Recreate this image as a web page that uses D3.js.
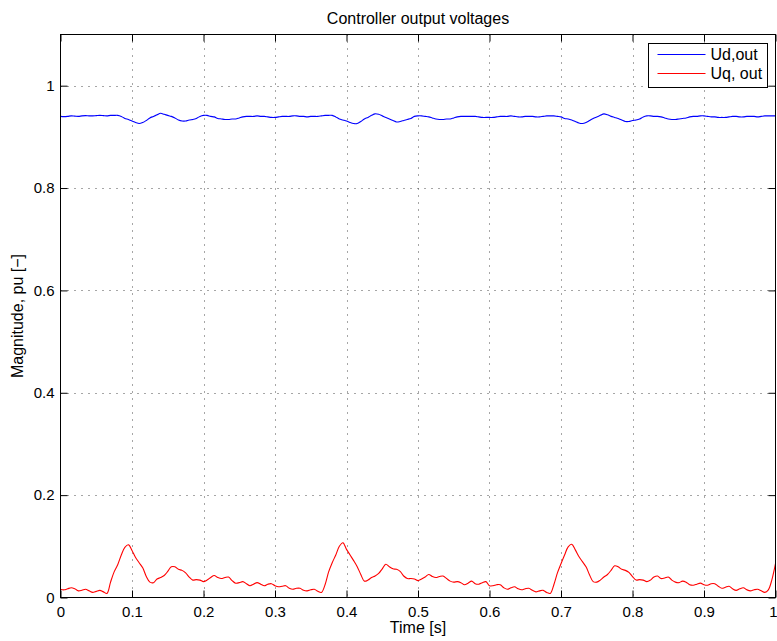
<!DOCTYPE html>
<html>
<head>
<meta charset="utf-8">
<script src="https://cdn.jsdelivr.net/npm/d3@7"></script>
<style>
  html, body { margin: 0; padding: 0; background: #ffffff; }
  svg { display: block; font-family: "Liberation Sans", Arial, Helvetica, sans-serif; }
</style>
</head>
<body>
<svg id="chart" width="777" height="641"></svg>
<script>
// Sample period of the logged controller outputs (s)
const sampleStep = 0.005;

// d-axis controller output voltage, pu
const udOut = [
  0.940, 0.9395, 0.940, 0.941, 0.9405, 0.940, 0.941, 0.9415, 0.941, 0.941,
  0.9415, 0.942, 0.9415, 0.941, 0.942, 0.942, 0.942, 0.940, 0.936, 0.934,
  0.931, 0.928, 0.926, 0.928, 0.932, 0.937, 0.940, 0.943, 0.946, 0.944,
  0.942, 0.940, 0.937, 0.933, 0.931, 0.931, 0.933, 0.934, 0.936, 0.940,
  0.942, 0.942, 0.940, 0.939, 0.936, 0.935, 0.934, 0.934, 0.935, 0.935,
  0.937, 0.939, 0.940, 0.940, 0.940, 0.941, 0.940, 0.940, 0.939, 0.938,
  0.938, 0.939, 0.940, 0.940, 0.940, 0.941, 0.941, 0.940, 0.940, 0.939,
  0.940, 0.940, 0.940, 0.941, 0.942, 0.942, 0.942, 0.939, 0.935, 0.933,
  0.931, 0.928, 0.926, 0.926, 0.930, 0.935, 0.938, 0.942, 0.945, 0.944,
  0.941, 0.938, 0.935, 0.932, 0.929, 0.930, 0.932, 0.934, 0.936, 0.940,
  0.941, 0.941, 0.940, 0.939, 0.937, 0.935, 0.934, 0.934, 0.935, 0.935,
  0.937, 0.939, 0.940, 0.940, 0.940, 0.940, 0.940, 0.939, 0.938, 0.938,
  0.938, 0.938, 0.939, 0.940, 0.940, 0.940, 0.941, 0.940, 0.939, 0.939,
  0.940, 0.940, 0.940, 0.939, 0.939, 0.940, 0.941, 0.941, 0.941, 0.940,
  0.939, 0.936, 0.935, 0.933, 0.930, 0.927, 0.926, 0.928, 0.932, 0.936,
  0.939, 0.942, 0.945, 0.943, 0.940, 0.938, 0.936, 0.933, 0.930, 0.930,
  0.932, 0.933, 0.935, 0.939, 0.941, 0.941, 0.940, 0.940, 0.939, 0.937,
  0.935, 0.934, 0.934, 0.935, 0.936, 0.937, 0.939, 0.940, 0.940, 0.941,
  0.941, 0.940, 0.939, 0.939, 0.938, 0.938, 0.938, 0.939, 0.940, 0.940,
  0.939, 0.939, 0.940, 0.940, 0.940, 0.939, 0.940, 0.941, 0.941, 0.941,
  0.941
];

// q-axis controller output voltage, pu
const uqOut = [
  0.016, 0.015, 0.017, 0.019, 0.017, 0.013, 0.014, 0.016, 0.013, 0.010,
  0.012, 0.014, 0.011, 0.008, 0.030, 0.050, 0.064, 0.083, 0.098, 0.103,
  0.092, 0.078, 0.068, 0.058, 0.041, 0.030, 0.029, 0.036, 0.039, 0.043,
  0.051, 0.060, 0.060, 0.055, 0.053, 0.048, 0.040, 0.034, 0.035, 0.034,
  0.031, 0.034, 0.039, 0.043, 0.039, 0.037, 0.039, 0.040, 0.033, 0.028,
  0.029, 0.031, 0.027, 0.023, 0.026, 0.029, 0.026, 0.023, 0.026, 0.027,
  0.023, 0.021, 0.022, 0.023, 0.018, 0.016, 0.018, 0.018, 0.014, 0.013,
  0.015, 0.016, 0.012, 0.010, 0.025, 0.050, 0.068, 0.083, 0.100, 0.107,
  0.094, 0.083, 0.072, 0.060, 0.045, 0.032, 0.034, 0.039, 0.042, 0.047,
  0.056, 0.065, 0.060, 0.056, 0.055, 0.051, 0.042, 0.037, 0.037, 0.036,
  0.033, 0.036, 0.040, 0.045, 0.041, 0.039, 0.041, 0.042, 0.037, 0.032,
  0.030, 0.031, 0.029, 0.025, 0.028, 0.032, 0.027, 0.026, 0.029, 0.031,
  0.023, 0.023, 0.025, 0.025, 0.019, 0.016, 0.019, 0.021, 0.017, 0.015,
  0.017, 0.018, 0.014, 0.011, 0.013, 0.014, 0.010, 0.008, 0.025, 0.048,
  0.066, 0.083, 0.099, 0.104, 0.093, 0.080, 0.070, 0.060, 0.044, 0.031,
  0.030, 0.034, 0.040, 0.045, 0.053, 0.062, 0.060, 0.055, 0.053, 0.049,
  0.041, 0.034, 0.035, 0.034, 0.031, 0.034, 0.040, 0.042, 0.037, 0.038,
  0.040, 0.034, 0.030, 0.029, 0.032, 0.030, 0.025, 0.024, 0.026, 0.028,
  0.025, 0.024, 0.027, 0.027, 0.022, 0.018, 0.020, 0.022, 0.017, 0.014,
  0.017, 0.019, 0.015, 0.013, 0.015, 0.016, 0.013, 0.010, 0.015, 0.035,
  0.066
];

const xTicks = [0, 0.1, 0.2, 0.3, 0.4, 0.5, 0.6, 0.7, 0.8, 0.9, 1];
const yTicks = [0, 0.2, 0.4, 0.6, 0.8, 1];
const seriesNames = ["Ud,out", "Uq, out"];
const seriesColors = ["#0000ff", "#ff0000"];

const svg = d3.select("#chart");
const margin = { left: 60.5, right: 1.5, top: 34.5, bottom: 43.5 };
const W = 777, H = 641;
const x0 = margin.left, x1 = W - margin.right;
const y0 = H - margin.bottom, y1 = margin.top;

const x = d3.scaleLinear().domain([0, 1]).range([x0, x1]);
const y = d3.scaleLinear().domain([0, 1.1]).range([y0, y1]);

const fmt = d => d3.format("")(+d.toFixed(1));

// dotted grid
const grid = svg.append("g").attr("stroke", "#222").attr("stroke-width", 1)
  .attr("stroke-dasharray", "1,6").attr("opacity", 0.8);
grid.selectAll(".gx").data(xTicks.slice(1, -1)).join("line")
  .attr("x1", d => Math.round(x(d)) + 0.5).attr("x2", d => Math.round(x(d)) + 0.5)
  .attr("y1", y1).attr("y2", y0);
grid.selectAll(".gy").data(yTicks.slice(1)).join("line")
  .attr("y1", d => Math.round(y(d)) + 0.5).attr("y2", d => Math.round(y(d)) + 0.5)
  .attr("x1", x0).attr("x2", x1);

// data lines
const line = d3.line()
  .x((d, i) => x(i * sampleStep))
  .y(d => y(d))
  .curve(d3.curveCatmullRom);

const plot = svg.append("g");
[udOut, uqOut].forEach((vals, k) => {
  plot.append("path").datum(vals)
    .attr("fill", "none")
    .attr("stroke", seriesColors[k])
    .attr("stroke-width", 1.1)
    .attr("d", line);
});

// axes (ticks pointing inward, mirrored on top and right)
const tickLen = 7;
const axisBottom = d3.axisBottom(x).tickValues(xTicks).tickSize(-tickLen).tickPadding(9).tickFormat(fmt);
const axisTop = d3.axisTop(x).tickValues(xTicks).tickSize(-tickLen).tickFormat("");
const axisLeft = d3.axisLeft(y).tickValues(yTicks).tickSize(-tickLen).tickPadding(6).tickFormat(fmt);
const axisRight = d3.axisRight(y).tickValues(yTicks).tickSize(-tickLen).tickFormat("");

function styleAxis(g) {
  g.select(".domain").remove();
  g.selectAll("line").attr("stroke", "#000");
  g.selectAll("text").attr("fill", "#000").style("font-size", "15px")
    .style("font-family", "'Liberation Sans', Arial, sans-serif");
}

const gBottom = svg.append("g").attr("transform", `translate(0,${y0})`).call(axisBottom).call(styleAxis);
// keep the last time label inside the figure
gBottom.selectAll(".tick text").filter(d => d === 1)
  .attr("text-anchor", "end").attr("x", 1.5);
svg.append("g").attr("transform", `translate(0,${y1})`).call(axisTop).call(styleAxis);
svg.append("g").attr("transform", `translate(${x0},0)`).call(axisLeft).call(styleAxis);
svg.append("g").attr("transform", `translate(${x1},0)`).call(axisRight).call(styleAxis);

// frame
svg.append("rect").attr("x", x0).attr("y", y1)
  .attr("width", x1 - x0).attr("height", y0 - y1)
  .attr("fill", "none").attr("stroke", "#000").attr("stroke-width", 1);

// title and axis labels
svg.append("text").attr("x", (x0 + x1) / 2).attr("y", 24)
  .attr("text-anchor", "middle").style("font-size", "16px")
  .text("Controller output voltages");
svg.append("text").attr("x", (x0 + x1) / 2).attr("y", 633)
  .attr("text-anchor", "middle").style("font-size", "16px")
  .text("Time [s]");
svg.append("text")
  .attr("transform", `translate(23,${(y0 + y1) / 2}) rotate(-90)`)
  .attr("text-anchor", "middle").style("font-size", "16px")
  .text("Magnitude, pu [\u2212]");

// legend
const lg = svg.append("g").attr("transform", "translate(648.5,43.5)");
lg.append("rect").attr("width", 119).attr("height", 44)
  .attr("fill", "#fff").attr("stroke", "#000").attr("stroke-width", 1);
seriesNames.forEach((name, k) => {
  const cy = 11 + k * 19;
  lg.append("line").attr("x1", 9).attr("x2", 57).attr("y1", cy).attr("y2", cy)
    .attr("stroke", seriesColors[k]).attr("stroke-width", 1.1);
  lg.append("text").attr("x", 62).attr("y", cy + 5.5).style("font-size", "16px").text(name);
});
</script>
</body>
</html>
